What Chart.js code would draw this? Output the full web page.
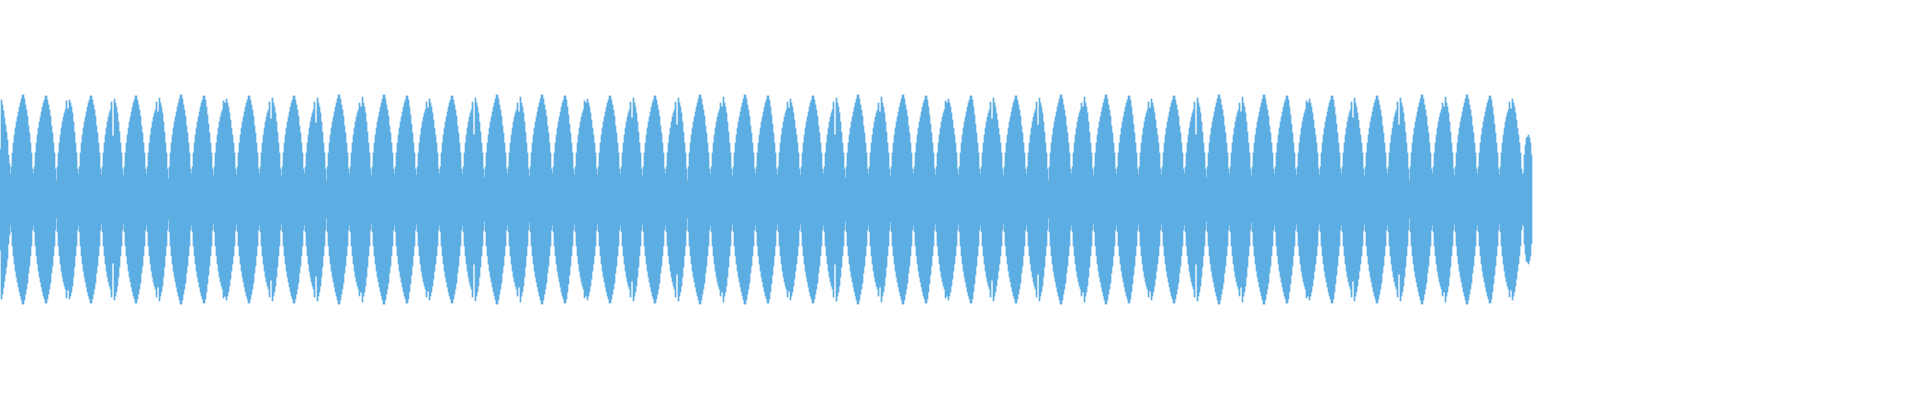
<!DOCTYPE html>
<html>
<head>
<meta charset="utf-8">
<style>html,body{margin:0;padding:0;background:#fff}#w{width:1920px;height:400px}</style>
<script src="https://cdn.jsdelivr.net/npm/chart.js@4"></script>
</head>
<body>
<div id="w"><canvas id="c"></canvas></div>
<script>
const sampleSlots = 1920;
const amplitude = [
51,100,95,89,82,75,68,60,45,36,
26,33,47,57,65,72,78,83,88,93,97,101,105,105,101,95,90,84,74,67,57,47,31,
26,33,47,57,65,72,78,83,88,93,97,100,104,104,100,95,90,84,74,67,57,47,31,
19,33,47,57,65,72,78,83,87,90,99,91,91,100,97,93,87,78,68,57,47,31,
26,33,47,57,65,72,78,83,88,93,97,100,104,104,100,95,90,84,74,67,57,47,31,
25,33,47,57,65,72,78,83,87,90,98,64,64,101,97,93,87,78,68,57,47,31,
24,33,47,57,65,72,78,83,88,93,97,100,104,104,100,95,90,84,74,67,57,47,31,
26,33,47,57,65,72,78,83,87,90,98,88,88,102,97,93,87,78,68,57,47,31,
21,33,47,57,65,72,78,83,88,93,97,101,105,105,101,95,90,84,74,67,57,47,31,
26,33,47,57,65,72,78,83,88,93,97,100,104,104,100,93,85,76,67,57,47,31,
24,33,47,57,65,72,78,83,87,90,99,97,97,101,97,93,87,80,72,65,57,47,31,
25,33,47,57,65,72,78,83,88,93,97,100,104,104,100,95,90,84,74,67,57,47,31,
26,33,47,57,65,72,78,83,87,90,98,81,81,102,97,93,87,78,68,57,47,31,
24,33,47,57,65,72,78,83,88,93,97,100,104,104,100,95,90,84,74,67,57,47,31,
26,33,47,57,65,72,78,83,87,90,98,77,77,102,97,93,87,78,68,57,47,31,
19,33,47,57,65,72,78,83,88,93,97,101,105,105,101,95,90,84,74,67,57,47,31,
26,33,47,57,65,72,78,83,87,90,97,93,93,103,97,93,87,78,68,57,47,31,
24,33,47,57,65,72,78,83,88,93,97,101,105,105,101,95,90,84,74,67,57,47,31,
26,33,47,57,65,72,78,83,88,93,97,100,104,104,100,93,85,76,67,57,47,31,
25,33,47,57,65,72,78,83,87,90,98,92,92,101,97,93,87,80,72,65,57,47,31,
26,33,47,57,65,72,78,83,88,93,97,100,104,104,100,95,90,84,74,67,57,47,31,
26,33,47,57,65,72,78,83,87,90,98,65,65,102,97,93,87,78,68,57,47,31,
22,33,47,57,65,72,78,83,88,93,97,101,105,105,101,95,90,84,74,67,57,47,31,
26,33,47,57,65,72,78,83,87,90,97,88,88,103,97,93,87,78,68,57,47,31,
23,33,47,57,65,72,78,83,88,93,97,101,105,105,101,95,90,84,74,67,57,47,31,
26,33,47,57,65,72,78,83,88,93,97,100,104,104,100,93,85,76,67,57,47,31,
25,33,47,57,65,72,78,83,87,90,99,97,97,101,97,93,87,80,72,65,57,47,31,
25,33,47,57,65,72,78,83,88,93,97,100,104,104,100,95,90,84,74,67,57,47,31,
26,33,47,57,65,72,78,83,87,90,98,82,82,102,97,93,87,78,68,57,47,31,
24,33,47,57,65,72,78,83,88,93,97,100,104,104,100,95,90,84,74,67,57,47,31,
26,33,47,57,65,72,78,83,87,90,98,75,75,102,97,93,87,78,68,57,47,31,
19,33,47,57,65,72,78,83,88,93,97,101,105,105,101,95,90,84,74,67,57,47,31,
26,33,47,57,65,72,78,83,87,90,97,93,93,103,97,93,87,78,68,57,47,31,
24,33,47,57,65,72,78,83,88,93,97,101,105,105,101,95,90,84,74,67,57,47,31,
26,33,47,57,65,72,78,83,88,93,97,100,104,104,100,93,85,76,67,57,47,31,
25,33,47,57,65,72,78,83,87,90,98,92,92,101,97,93,87,80,72,65,57,47,31,
25,33,47,57,65,72,78,83,88,93,97,100,104,104,100,95,90,84,74,67,57,47,31,
26,33,47,57,65,72,78,83,87,90,98,65,65,102,97,93,87,78,68,57,47,31,
22,33,47,57,65,72,78,83,88,93,97,101,105,105,101,95,90,84,74,67,57,47,31,
26,33,47,57,65,72,78,83,87,90,97,88,88,103,97,93,87,78,68,57,47,31,
23,33,47,57,65,72,78,83,88,93,97,101,105,105,101,95,90,84,74,67,57,47,31,
26,33,47,57,65,72,78,83,88,93,97,100,104,104,100,93,85,76,67,57,47,31,
25,33,47,57,65,72,78,83,87,90,99,97,97,101,97,93,87,80,72,65,57,47,31,
25,33,47,57,65,72,78,83,88,93,97,100,104,104,100,93,85,76,67,57,47,31,
26,33,47,57,65,72,78,83,87,90,98,81,81,102,97,93,87,80,72,65,57,47,31,
24,33,47,57,65,72,78,83,88,93,97,100,104,104,100,95,90,84,74,67,57,47,31,
26,33,47,57,65,72,78,83,87,90,98,75,75,102,97,93,87,78,68,57,47,31,
19,33,47,57,65,72,78,83,88,93,97,101,105,105,101,95,90,84,74,67,57,47,31,
26,33,47,57,65,72,78,83,87,90,97,93,93,103,97,93,87,78,68,57,47,31,
24,33,47,57,65,72,78,83,88,93,97,101,105,105,101,95,90,84,74,67,57,47,31,
26,33,47,57,65,72,78,83,88,93,97,100,104,104,100,93,85,76,67,57,47,31,
25,33,47,57,65,72,78,83,87,90,98,92,92,101,97,93,87,80,72,65,57,47,31,
25,33,47,57,65,72,78,83,88,93,97,100,104,104,100,95,90,84,74,67,57,47,31,
26,33,47,57,65,72,78,83,87,90,98,65,65,102,97,93,87,78,68,57,47,31,
22,33,47,57,65,72,78,83,88,93,97,101,105,105,101,95,90,84,74,67,57,47,31,
26,33,47,57,65,72,78,83,87,90,97,88,88,103,97,93,87,78,68,57,47,31,
23,33,47,57,65,72,78,83,88,93,97,101,105,105,101,95,90,84,74,67,57,47,31,
26,33,47,57,65,72,78,83,88,93,97,100,104,104,100,93,85,76,67,57,47,31,
25,33,47,57,65,72,78,83,87,90,99,97,97,101,97,93,87,80,72,65,57,47,31,
25,33,47,57,65,72,78,83,88,93,97,100,104,104,100,93,85,76,67,57,47,31,
26,33,47,57,65,72,78,83,87,90,98,82,82,102,97,93,87,80,72,65,57,47,31,
24,33,47,57,65,72,78,83,88,93,97,100,104,104,100,95,90,84,74,67,57,47,31,
26,33,47,57,65,72,78,83,87,90,98,75,75,102,97,93,87,78,68,57,47,31,
19,33,47,57,65,72,78,83,88,93,97,101,105,105,101,95,90,84,74,67,57,47,31,
26,33,47,57,65,72,78,83,87,90,97,93,93,103,97,93,87,78,68,57,47,31,
24,33,47,57,65,72,78,83,88,93,97,101,105,105,101,95,90,84,74,67,57,47,31,
26,33,47,57,65,72,78,83,88,93,97,100,104,104,100,93,85,76,67,57,47,31,
25,33,47,57,65,72,78,83,87,90,98,91,91,101,97,93,87,80,72,65,57,47,31,
25,27,45,55,62,63,65,62,57,45
];
const labels = Array.from({length: sampleSlots}, (_, i) => i);
// the waveform's zero line falls between two pixel rows, so the lower edge sits one unit short
const bars = amplitude.map(a => [1 - a, a]);
new Chart(document.getElementById('c'), {
  type: 'bar',
  data: { labels, datasets: [{ data: bars, backgroundColor: '#5DADE2', borderWidth: 0, barPercentage: 1, categoryPercentage: 1 }] },
  options: {
    responsive: true, maintainAspectRatio: false, animation: false,
    layout: { padding: 0 },
    plugins: { legend: { display: false }, tooltip: { enabled: false } },
    scales: {
      x: { display: false },
      y: { display: false, min: -200, max: 200 }
    }
  }
});
</script>
</body>
</html>
